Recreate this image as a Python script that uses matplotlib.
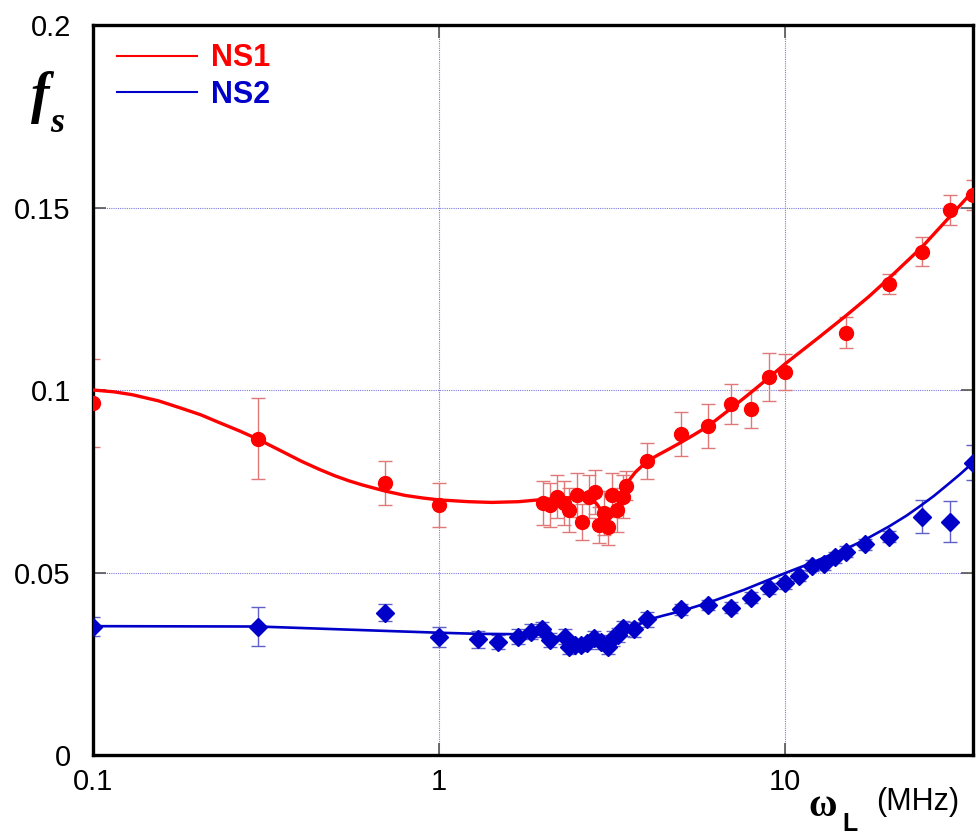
import numpy as np
import matplotlib
matplotlib.use("Agg")
import matplotlib.pyplot as plt

# ---------------------------- DATA ----------------------------
# NS1 measured points (omega_L in MHz, f_s, error)
ns1_x = [0.1, 0.3, 0.7, 1.0, 2.0, 2.1, 2.2, 2.3, 2.38, 2.5, 2.6, 2.72, 2.82, 2.9,
         3.0, 3.08, 3.16, 3.28, 3.4, 3.48, 4.0, 5.0, 6.0, 7.0, 8.0, 9.0, 10.0,
         15.0, 20.0, 25.0, 30.0, 35.0]
ns1_y = [0.0965, 0.0867, 0.0745, 0.0685, 0.0691, 0.0685, 0.0708, 0.0691, 0.0671,
         0.0712, 0.0638, 0.0708, 0.0720, 0.0630, 0.0662, 0.0626, 0.0712, 0.0671,
         0.0708, 0.0738, 0.0806, 0.0880, 0.0901, 0.0961, 0.0948, 0.1035, 0.1049,
         0.1157, 0.1290, 0.1379, 0.1493, 0.1534]
ns1_err = [0.012, 0.011, 0.006, 0.006, 0.006, 0.006, 0.006, 0.006, 0.006, 0.006,
           0.005, 0.006, 0.006, 0.005, 0.006, 0.005, 0.006, 0.006, 0.006, 0.004,
           0.005, 0.006, 0.006, 0.0055, 0.0053, 0.0066, 0.005, 0.0043, 0.0027,
           0.004, 0.004, 0.004]

# NS1 fitted curve
ns1_fit_x = [0.1, 0.115, 0.13, 0.155, 0.18, 0.205, 0.23, 0.265, 0.3, 0.35, 0.4,
             0.45, 0.5, 0.55, 0.6, 0.7, 0.8, 0.9, 1.0, 1.22, 1.42, 1.7, 1.94,
             2.2, 2.5, 2.7, 2.85, 2.95, 3.05, 3.12, 3.2, 3.3, 3.45, 3.7, 4.0,
             4.3, 4.6, 5.0, 5.5, 6.0, 7.0, 8.0, 9.0, 10.0, 12.5, 15.0, 17.5,
             20.0, 25.0, 30.0, 35.0]
ns1_fit_y = [0.1000, 0.0995, 0.0987, 0.0970, 0.0950, 0.0932, 0.0912, 0.0888,
             0.0865, 0.0833, 0.0805, 0.0783, 0.0765, 0.0751, 0.0740, 0.0723,
             0.0711, 0.0704, 0.0699, 0.0694, 0.0692, 0.0694, 0.0699, 0.0703,
             0.0706, 0.0703, 0.0690, 0.0670, 0.0650, 0.0648, 0.0660, 0.0690,
             0.0738, 0.0775, 0.0805, 0.0822, 0.0837, 0.0856, 0.0879, 0.0901,
             0.0950, 0.0994, 0.1034, 0.1071, 0.1143, 0.1203, 0.1256, 0.1306,
             0.1393, 0.1475, 0.1545]

# NS2 measured points
ns2_x = [0.1, 0.3, 0.7, 1.0, 1.3, 1.48, 1.69, 1.84, 1.99, 2.09, 2.31, 2.37, 2.48,
         2.58, 2.68, 2.81, 2.94, 3.09, 3.19, 3.3, 3.4, 3.67, 4.0, 5.0, 6.0, 7.0,
         8.0, 9.0, 10.0, 11.0, 12.0, 13.0, 14.0, 15.0, 17.0, 20.0, 25.0, 30.0, 35.0]
ns2_y = [0.0352, 0.0352, 0.0390, 0.0324, 0.0317, 0.0310, 0.0324, 0.0338, 0.0344,
         0.0315, 0.0324, 0.0297, 0.0301, 0.0301, 0.0306, 0.0320, 0.0310, 0.0297,
         0.0320, 0.0329, 0.0347, 0.0344, 0.0372, 0.0399, 0.0411, 0.0404, 0.0431,
         0.0457, 0.0470, 0.0491, 0.0519, 0.0523, 0.0542, 0.0557, 0.0578, 0.0598,
         0.0653, 0.0639, 0.0801]
ns2_err = [0.0025, 0.0053, 0.0023, 0.0027, 0.0024, 0.002, 0.002, 0.002, 0.002,
           0.002, 0.002, 0.002, 0.0015, 0.0015, 0.0015, 0.002, 0.002, 0.002,
           0.002, 0.002, 0.002, 0.002, 0.002, 0.0015, 0.0015, 0.0015, 0.0015,
           0.0015, 0.0015, 0.0015, 0.0015, 0.0015, 0.0015, 0.0015, 0.0015, 0.0015,
           0.0046, 0.0056, 0.0048]

# NS2 fitted curve
ns2_fit_x = [0.1, 0.3, 0.7, 1.0, 1.3, 1.7, 2.0, 2.3, 2.55, 2.9, 3.1, 3.3, 3.6,
             4.0, 4.5, 5.0, 6.0, 7.6, 10.0, 12.0, 13.6, 15.5, 17.0, 20.0, 22.5,
             24.7, 27.0, 29.5, 32.0, 35.0]
ns2_fit_y = [0.0353, 0.0352, 0.0340, 0.0335, 0.0332, 0.0331, 0.0330, 0.0320,
             0.0306, 0.0302, 0.0298, 0.0318, 0.0345, 0.0370, 0.0383, 0.0394,
             0.0417, 0.0452, 0.0498, 0.0527, 0.0549, 0.0571, 0.0589, 0.0626,
             0.0656, 0.0683, 0.0710, 0.0740, 0.0768, 0.0801]

RED = "#ff0000"
BLUE = "#0000c8"

plt.rcParams["font.family"] = ["Liberation Sans", "DejaVu Sans"]

# ---------------------------- FIGURE ----------------------------
fig = plt.figure(figsize=(9.76, 8.38), dpi=100)
ax = fig.add_axes([93 / 976, 83 / 838, 880 / 976, 730 / 838])

ax.errorbar(ns1_x, ns1_y, yerr=ns1_err, fmt="none", ecolor="#e07878",
            elinewidth=1.0, capsize=5, capthick=1.0, zorder=2)
ax.plot(ns1_fit_x, ns1_fit_y, color=RED, lw=2.4, zorder=3, label="NS1")
ax.plot(ns1_x, ns1_y, "o", color=RED, ms=10, mec=RED, zorder=4)

ax.errorbar(ns2_x, ns2_y, yerr=ns2_err, fmt="none", ecolor="#6060c8",
            elinewidth=1.0, capsize=5, capthick=1.0, zorder=2)
ax.plot(ns2_fit_x, ns2_fit_y, color=BLUE, lw=1.9, zorder=3, label="NS2")
ax.plot(ns2_x, ns2_y, "D", color=BLUE, ms=9, mec=BLUE, zorder=4)

ax.set_xscale("log")
ax.set_xlim(0.1, 35)
ax.set_ylim(0, 0.2)
ax.set_xticks([0.1, 1, 10])
ax.set_xticklabels(["0.1", "1", "10"])
ax.xaxis.set_minor_locator(matplotlib.ticker.NullLocator())
ax.set_yticks([0, 0.05, 0.1, 0.15, 0.2])
ax.set_yticklabels(["0", "0.05", "0.1", "0.15", "0.2"])

ax.grid(True, which="major", color="#7c7ce0", linestyle=(0, (1, 1)), lw=0.8)
ax.tick_params(axis="both", direction="in", length=9, width=1.2, color="#555555",
               labelsize=21, right=True, top=True)
ax.tick_params(axis="x", pad=9)
ax.tick_params(axis="y", pad=16)
for s in ax.spines.values():
    s.set_linewidth(2.4)
    s.set_color("black")

leg = ax.legend(loc="upper left", frameon=False, fontsize=22, handlelength=2.6,
                handletextpad=0.45, labelspacing=0.22, borderaxespad=0.2,
                bbox_to_anchor=(0.007, 1.0))
for txt, c in zip(leg.get_texts(), [RED, BLUE]):
    txt.set_color(c)
    txt.set_fontweight("bold")
for h in leg.get_lines():
    h.set_linewidth(1.5)

# y label: f_s
fig.text(40 / 976, 1 - 98 / 838, "f", family=["Liberation Serif", "DejaVu Serif"],
         style="italic", weight="bold", fontsize=40, ha="center", va="center")
fig.text(57 / 976, 1 - 124 / 838, "s", family=["Liberation Serif", "DejaVu Serif"],
         style="italic", weight="bold", fontsize=26, ha="center", va="center")

# x label: omega_L (MHz)
fig.text(823 / 976, 1 - 806 / 838, "ω", family=["Liberation Serif", "DejaVu Serif"],
         weight="bold", fontsize=28, ha="center", va="center")
fig.text(850 / 976, 1 - 824 / 838, "L", weight="bold", fontsize=18,
         ha="center", va="center")
fig.text(918 / 976, 1 - 802 / 838, "(MHz)", fontsize=22, ha="center", va="center")

fig.savefig("out.png", dpi=100)
